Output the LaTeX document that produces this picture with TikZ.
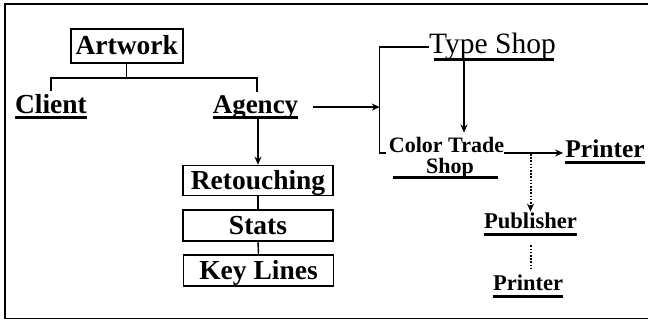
\documentclass[tikz,border=0pt]{standalone}
\usepackage{fontspec}
\setmainfont{Liberation Serif}
\usetikzlibrary{arrows.meta}
\begin{document}
\begin{tikzpicture}[x=1pt,y=-1pt,
  lbl/.style={inner sep=0pt, anchor=base, font=\fontsize{27.5}{30}\selectfont\bfseries},
  stagebox/.style={draw, line width=1.6pt, inner sep=0pt, minimum width=150pt,
    minimum height=30pt, text height=18pt, text depth=0pt,
    font=\fontsize{27.5}{30}\selectfont\bfseries},
  link/.style={line width=1.4pt},
  arr/.style={link, -{Stealth[length=8pt,width=7pt]}},
  dotlink/.style={line width=2pt, dash pattern=on 1.6pt off 1.6pt},
  dotarr/.style={dotlink, -{Stealth[length=8pt,width=7pt]}},
  uline/.style={line width=3pt}]
\useasboundingbox (0,0) rectangle (655,321);

% open frame: top, left and bottom edges
\draw[line width=1.6pt] (648,4) -- (5,4) -- (5,318.5) -- (648,318.5);

% nodes
\node[stagebox, minimum width=112pt, minimum height=34pt] (art) at (126.7,46) {Artwork};
\node[lbl] (client) at (51,113) {Client};
\node[lbl, font=\fontsize{27}{30}\selectfont\bfseries] (agency) at (255.5,113) {Agency};
\node[lbl, font=\fontsize{29.5}{32}\selectfont] (type) at (492.5,54) {Type Shop};
\node[lbl, font=\fontsize{22}{25}\selectfont\bfseries] (ct) at (446.5,152) {Color Trade};
\node[lbl, font=\fontsize{22}{25}\selectfont\bfseries] (shop) at (450,173) {Shop};
\node[lbl, font=\fontsize{25.5}{28}\selectfont\bfseries] (pr1) at (605,157) {Printer};
\node[lbl, font=\fontsize{22.6}{25}\selectfont\bfseries] (pub) at (530.5,228) {Publisher};
\node[lbl, font=\fontsize{22.5}{25}\selectfont\bfseries] (pr2) at (528,290) {Printer};
\node[stagebox] (ret) at (258,180.5) {Retouching};
\node[stagebox, minimum height=31pt] (stats) at (258,225.5) {Stats};
\node[stagebox, minimum height=31pt] (keyl) at (258.5,270.5) {Key Lines};

% underlines
\draw[uline] ([yshift=-4.5pt]client.base west) -- ([yshift=-4.5pt]client.base east);
\draw[uline] ([yshift=-4.5pt]agency.base west) -- ([yshift=-4.5pt]agency.base east);
\draw[uline] ([xshift=5pt,yshift=-5.5pt]type.base west) -- ([xshift=-2pt,yshift=-5.5pt]type.base east);
\draw[uline] ([xshift=-33pt,yshift=-4.5pt]shop.base west) -- ([xshift=24pt,yshift=-4.5pt]shop.base east);
\draw[uline] ([yshift=-5pt]pr1.base west) -- ([yshift=-5pt]pr1.base east);
\draw[uline] ([yshift=-6pt]pub.base west) -- ([yshift=-6pt]pub.base east);
\draw[uline] ([yshift=-6pt]pr2.base west) -- ([yshift=-6pt]pr2.base east);

% tree under Artwork
\coordinate (jn) at ([yshift=-14pt]art.south);
\draw[link] (art.south) -- (jn);
\draw[link] ([yshift=2.5pt]client.north) |- (jn) -| ([xshift=1.5pt,yshift=3pt]agency.north);

% Agency to the production stages
\draw[arr] (ret.north |- agency.south) -- (ret.north);
\draw[link] (ret.south) -- (stats.north);
\draw[link] (stats.south) -- (keyl.north);

% bracket feeding Type Shop and Color Trade Shop
\coordinate (bb) at ([xshift=-9pt,yshift=-1pt]ct.base west);
\draw[link] (type.west) -| (bb) -- ++(6,0);
\draw[arr] ([xshift=15pt]agency.east) -- (agency.east -| bb);

% Type Shop down to Color Trade Shop
\coordinate (tx) at ([xshift=35pt,yshift=-7pt]type.base west);
\draw[arr, line width=1.8pt] (tx) -- ([yshift=4pt]tx |- ct.north);

% Color Trade Shop to Printer and Publisher
\draw[arr] ([yshift=-1pt]ct.base east) -- ([xshift=-2pt,yshift=-1pt]pr1.west |- ct.base);
\draw[dotarr] ([yshift=-2pt]pub.north |- ct.base) -- ([yshift=0.5pt]pub.north);
\draw[dotlink] ([yshift=-17pt]pub.south) -- ([yshift=5pt]pr2.north -| pub.north);
\end{tikzpicture}
\end{document}
